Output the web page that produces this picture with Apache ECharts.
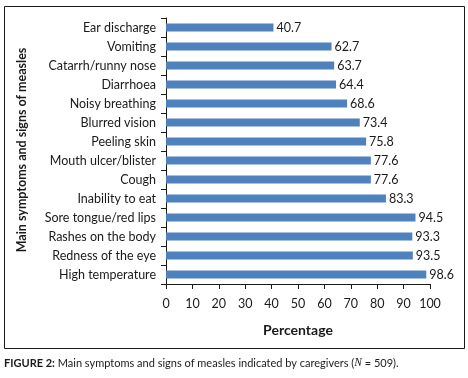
<!DOCTYPE html>
<html lang="en">
<head>
    <meta charset="UTF-8">
    <title>Measles symptoms</title>
    <script src="https://cdn.jsdelivr.net/npm/echarts@6/dist/echarts.min.js"></script>
    <style>
        html, body { margin: 0; padding: 0; background: #fff; }
        #main { width: 468px; height: 378px; }
    </style>
</head>
<body>
    <div id="main"></div>
    <script type="text/javascript">
        // top to bottom, as in the figure
        const symptoms = [
          'Ear discharge', 'Vomiting', 'Catarrh/runny nose', 'Diarrhoea',
          'Noisy breathing', 'Blurred vision', 'Peeling skin', 'Mouth ulcer/blister',
          'Cough', 'Inability to eat', 'Sore tongue/red lips', 'Rashes on the body',
          'Redness of the eye', 'High temperature'
        ];
        const percentages = [40.7, 62.7, 63.7, 64.4, 68.6, 73.4, 75.8, 77.6, 77.6, 83.3, 94.5, 93.3, 93.5, 98.6];
        const xTicks = [0, 100, 10];   // min, max, step

        const font = 'Lato, "Open Sans", sans-serif';
        const ink = '#1a1a1a';

        const option = {
          animation: false,
          textStyle: { fontFamily: font },
          grid: { left: 166, right: 38, top: 18, bottom: 94, containLabel: false },
          xAxis: {
            type: 'value',
            min: xTicks[0],
            max: xTicks[1],
            interval: xTicks[2],
            name: 'Percentage',
            nameLocation: 'middle',
            nameGap: 39,
            nameTextStyle: { fontSize: 14, fontWeight: 'bold', color: ink, fontFamily: font },
            axisLine: { show: true, lineStyle: { color: ink, width: 1 } },
            axisTick: { show: true, length: 5, inside: false, lineStyle: { color: ink } },
            axisLabel: { fontSize: 12.5, color: ink, margin: 13 },
            splitLine: { show: false }
          },
          yAxis: {
            type: 'category',
            data: symptoms,
            inverse: true,
            axisLine: { show: true, lineStyle: { color: ink, width: 1 } },
            axisTick: { show: true, length: 5, alignWithLabel: false, lineStyle: { color: ink } },
            axisLabel: { fontSize: 12.5, color: ink, margin: 10 }
          },
          series: [{
            type: 'bar',
            data: percentages,
            barWidth: 8,
            itemStyle: { color: '#4F81BD' },
            label: {
              show: true,
              position: 'right',
              distance: 3,
              fontSize: 12.5,
              color: ink,
              formatter: p => p.value.toFixed(1)
            }
          }],
          graphic: [
            {
              type: 'rect',
              shape: { x: 4.5, y: 6.5, width: 460, height: 342 },
              style: { fill: null, stroke: ink, lineWidth: 1 },
              silent: true
            },
            {
              // y axis title
              type: 'text',
              x: 22,
              y: 150,
              rotation: Math.PI / 2,
              style: {
                text: 'Main symptoms and signs of measles',
                fontSize: 12.5,
                fontWeight: 'bold',
                fontFamily: font,
                fill: ink,
                align: 'center',
                verticalAlign: 'middle'
              },
              silent: true
            },
            {
              type: 'text',
              left: 4,
              top: 357,
              style: {
                text: '{b|FIGURE 2:} Main symptoms and signs of measles indicated by caregivers ({i|N} = 509).',
                fontSize: 11,
                fontFamily: font,
                fill: ink,
                rich: {
                  b: { fontWeight: 'bold', fontSize: 11, fontFamily: font },
                  i: { fontStyle: 'italic', fontSize: 11.5, fontFamily: '"Liberation Serif", serif' }
                }
              }
            }
          ]
        };

        const myChart = echarts.init(document.getElementById('main'));
        myChart.setOption(option);
    </script>
</body>
</html>
